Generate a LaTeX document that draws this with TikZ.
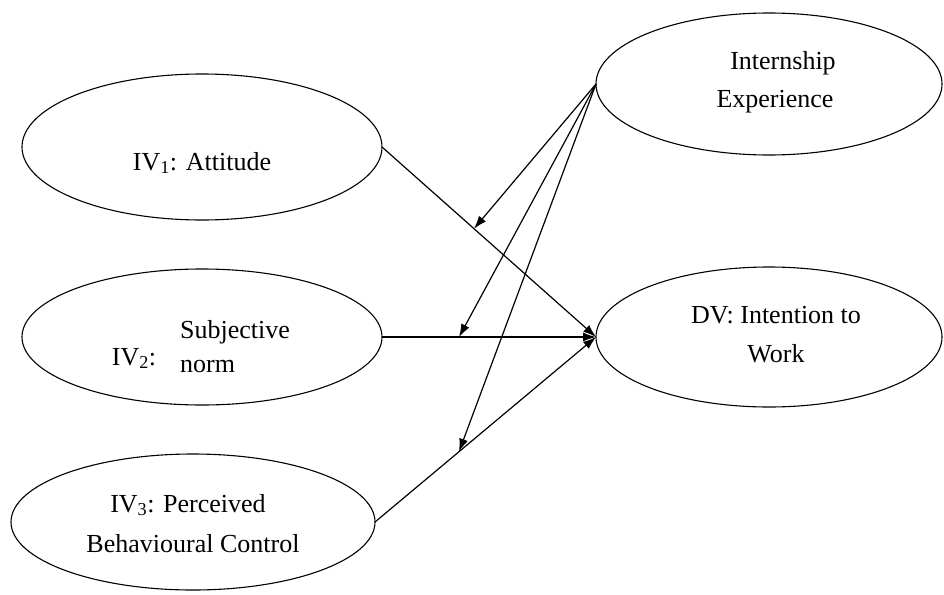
\documentclass[tikz,border=0pt]{standalone}
\usepackage{fontspec}
\setmainfont{Liberation Serif}
\usetikzlibrary{shapes.geometric,arrows.meta,calc}
\begin{document}
\begin{tikzpicture}[x=1pt,y=-1pt,
  oval/.style={draw, ellipse, line width=1.1pt, inner sep=0pt, outer sep=0pt},
  lbl/.style={anchor=base, inner sep=0pt, font=\fontsize{26}{30}\selectfont},
  conn/.style={line width=1.2pt, -{Latex[length=13pt,width=9pt]}}]
\useasboundingbox (0,0) rectangle (944,594);
\node[oval, minimum width=360, minimum height=146] (iv1) at (202,147) {};
\node[oval, minimum width=360, minimum height=136] (iv2) at (202,337) {};
\node[oval, minimum width=364, minimum height=136] (iv3) at (193,522) {};
\node[oval, minimum width=346, minimum height=142] (ie) at (769,84) {};
\node[oval, minimum width=346, minimum height=140] (dv) at (769,337) {};
% labels
\node[lbl] (t1) at (202,170) {IV\textsubscript{1}: Attitude};
\node[lbl] (t2a) at (134,365) {IV\textsubscript{2}:};
\node[lbl, anchor=base west] (t2b) at (180,338) {Subjective};
\node[lbl, anchor=base west] (t2c) at (180,372) {norm};
\node[lbl] (t3a) at (188,512) {IV\textsubscript{3}: Perceived};
\node[lbl] (t3b) at (193,552) {Behavioural Control};
\node[lbl] (tia) at (783,70) {Internship};
\node[lbl] (tib) at (775,107) {Experience};
\node[lbl] (tda) at (776,323) {DV: Intention to};
\node[lbl] (tdb) at (776,362) {Work};
% main arrows
\draw[conn] (iv1.east) -- (dv.west);
\draw[conn] (iv2.east) -- (dv.west);
\draw[conn] (iv3.east) -- (dv.west);
% moderation points
\coordinate (m1) at ($(iv1.east)!0.43!(dv.west)$);
\coordinate (m2) at ($(iv2.east)!0.36!(dv.west)$);
\coordinate (m3) at ($(iv3.east)!0.38!(dv.west)$);
\draw[conn] (ie.west) -- (m1);
\draw[conn] (ie.west) -- (m2);
\draw[conn] (ie.west) -- (m3);
\end{tikzpicture}
\end{document}
